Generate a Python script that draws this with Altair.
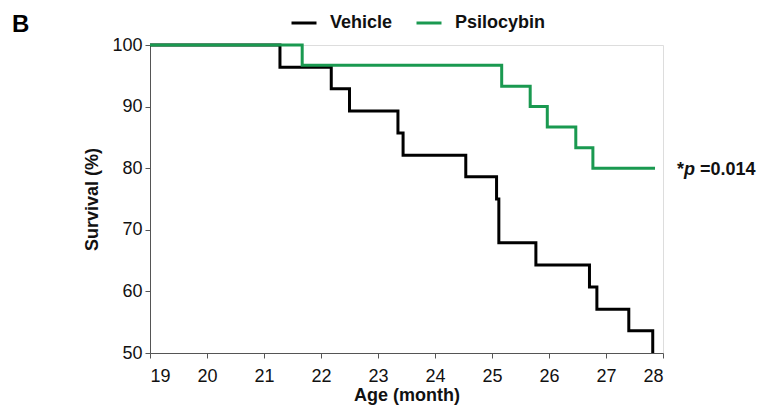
import altair as alt
import pandas as pd

# Kaplan-Meier step points (time in months, survival %)
vehicle_time = [19, 21.28, 22.18, 22.5, 23.35, 23.44, 24.54, 25.08, 25.12, 25.77, 26.71, 26.84, 27.4, 27.82]
vehicle_surv = [100, 96.4, 92.9, 89.3, 85.7, 82.1, 78.6, 75.0, 67.9, 64.3, 60.7, 57.1, 53.6, 50.0]
psilo_time = [19, 21.67, 25.17, 25.67, 25.97, 26.47, 26.77, 27.86]
psilo_surv = [100, 96.7, 93.3, 90.0, 86.7, 83.3, 80.0, 80.0]

groups = ["Vehicle", "Psilocybin"]
colors = ["#000000", "#1a9950"]
x_ticks = [19, 20, 21, 22, 23, 24, 25, 26, 27, 28]
y_ticks = [50, 60, 70, 80, 90, 100]

df = pd.concat([
    pd.DataFrame({"age": vehicle_time, "surv": vehicle_surv, "group": "Vehicle", "ord": 0}),
    pd.DataFrame({"age": psilo_time, "surv": psilo_surv, "group": "Psilocybin", "ord": 1}),
], ignore_index=True)

FONT = "Liberation Sans"

x = alt.X("age:Q", scale=alt.Scale(domain=[19, 28], nice=False, zero=False),
          axis=alt.Axis(values=x_ticks, title="Age (month)", grid=False, format="d",
                        labelFontSize=18, titleFontSize=18, titleFontWeight="bold",
                        labelPadding=9, titlePadding=1, tickSize=5,
                        domainColor="#555", tickColor="#555", labelColor="#111", titleColor="#111",
                        labelFont=FONT, titleFont=FONT))
y = alt.Y("surv:Q", scale=alt.Scale(domain=[50, 100], nice=False, zero=False),
          axis=alt.Axis(values=y_ticks, title="Survival (%)", grid=False,
                        labelFontSize=18, titleFontSize=18, titleFontWeight="bold",
                        labelPadding=3, titlePadding=10, tickSize=5,
                        domainColor="#555", tickColor="#555", labelColor="#111", titleColor="#111",
                        labelFont=FONT, titleFont=FONT))

lines = alt.Chart(df).mark_line(interpolate="step-after", strokeWidth=3).encode(
    x=x, y=y,
    color=alt.Color("group:N", scale=alt.Scale(domain=groups, range=colors),
                    legend=alt.Legend(title=None, orient="none", direction="horizontal",
                                      legendX=140, legendY=-36, symbolType="stroke",
                                      symbolSize=625, symbolStrokeWidth=3,
                                      labelFontSize=18, labelFontWeight="bold", labelFont=FONT,
                                      labelColor="#111", labelOffset=12, columnPadding=17)),
    detail="group:N",
    order=alt.Order("ord:Q"),
)

ptxt = pd.DataFrame({"age": [28], "surv": [80]})
star = alt.Chart(ptxt).mark_text(text="*", align="left", baseline="middle", dx=14, dy=2,
                                 fontSize=18, fontWeight="bold", font=FONT, color="#111").encode(
    x=alt.X("age:Q"), y=alt.Y("surv:Q"))
pchr = alt.Chart(ptxt).mark_text(text="p", align="left", baseline="middle", dx=21, dy=2,
                                 fontSize=18, fontWeight="bold", fontStyle="italic", font=FONT,
                                 color="#111").encode(x=alt.X("age:Q"), y=alt.Y("surv:Q"))
pval = alt.Chart(ptxt).mark_text(text="=0.014", align="left", baseline="middle", dx=37, dy=2,
                                 fontSize=18, fontWeight="bold", font=FONT, color="#111").encode(
    x=alt.X("age:Q"), y=alt.Y("surv:Q"))

panel = alt.Chart(pd.DataFrame({"t": ["B"]})).mark_text(
    align="left", baseline="alphabetic", fontSize=24, fontWeight="bold", font=FONT, color="#000"
).encode(text="t:N", x=alt.value(-138), y=alt.value(-13))

chart = alt.layer(lines, star, pchr, pval, panel).properties(
    width=513, height=308,
    autosize=alt.AutoSizeParams(type="none"),
    padding={"left": 150, "top": 45, "right": 98, "bottom": 60},
).configure_view(stroke=None).configure(background="white")

chart.save("out.html", embed_options={"renderer": "svg", "actions": False})
